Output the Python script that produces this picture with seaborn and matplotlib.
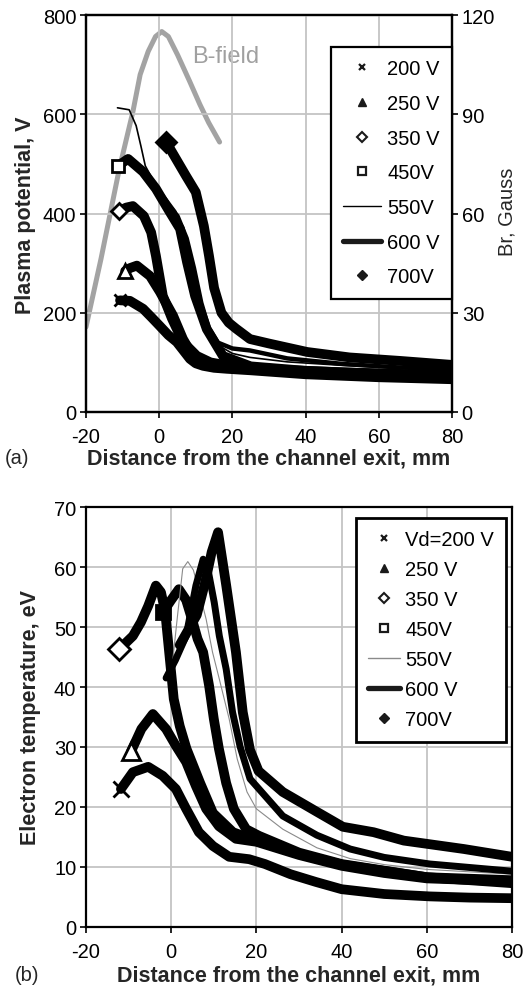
import matplotlib
matplotlib.use("Agg")
import matplotlib.pyplot as plt
from matplotlib.lines import Line2D
import seaborn as sns

# ---------- (a) plasma potential, V vs distance, mm ----------
A200_X = [-10.7, -8, -4.4, -2, 0.2, 2.5, 4.8, 6.5, 8.4, 10, 12, 15, 18.5, 25, 40, 60, 80]
A200_V = [225, 224, 208, 190, 173, 155, 141, 125, 107, 98, 93, 89, 87, 84, 76, 70, 66]
A250_X = [-9.3, -8, -6.1, -2.5, 0.2, 3.8, 6.5, 9.2, 13, 18, 25, 40, 60, 80]
A250_V = [284, 290, 295, 274, 242, 194, 147, 113, 100, 90, 86, 80, 74, 70]
A350_X = [-11, -9, -7.2, -4.2, -2.2, -0.9, 1, 3.5, 6.5, 10.3, 14, 20, 30, 50, 80]
A350_V = [405, 412, 415, 395, 362, 315, 234, 188, 141, 113, 100, 92, 86, 80, 74]
A450_X = [-11.3, -8.5, -4.4, -0.9, 2.4, 5.7, 7.6, 9.8, 13, 17.4, 25, 40, 60, 80]
A450_V = [496, 510, 484, 450, 409, 369, 302, 234, 167, 113, 92, 83, 77, 72]
A550_X = [-11.4, -8.2, -6.3, -5, -3.8, -1, 2, 4.5, 7, 9, 11, 13, 16, 20, 24.8, 35, 50, 65, 80]
A550_V = [613, 609, 577, 536, 496, 458, 430, 405, 360, 305, 235, 175, 135, 118, 110, 101, 94, 88, 84]
A600_X = [-8.5, -4.4, -0.9, 2.4, 5, 7.5, 9.5, 11.5, 13.5, 16, 20, 24.8, 35, 50, 65, 80]
A600_V = [510, 484, 450, 418, 395, 350, 290, 220, 170, 140, 128, 124, 108, 97, 90, 86]
A700_X = [1.9, 4.6, 7.3, 10, 12.2, 13.6, 15, 17, 19, 21, 24.8, 30, 40.4, 52, 65.8, 80]
A700_V = [544, 510, 476, 443, 375, 315, 250, 200, 180, 168, 147, 138, 121, 110, 103, 95]
# B-field, Gauss (right axis)
BF_X = [-20, -15.9, -10.9, -7.2, -5.2, -3, -1, 0.7, 2.5, 5, 8.3, 11.1, 13.5, 16.5]
BF_G = [25.7, 46.3, 73.5, 90.7, 102, 109, 113.5, 115, 113.5, 108, 100, 93, 87.5, 81.6]

# ---------- (b) electron temperature, eV ----------
B200_X = [-11.8, -9, -5.4, -2, 1.1, 3.5, 6.5, 9.8, 13.6, 18.3, 22, 28, 34, 40, 50, 60.7, 70, 80]
B200_T = [23, 25.8, 26.7, 25.2, 23, 19.7, 15.8, 13.5, 11.7, 11.3, 10.5, 8.8, 7.5, 6.3, 5.5, 5.1, 4.9, 4.8]
B250_X = [-9.4, -7, -4.3, -1.2, 1.1, 3.5, 5.8, 8.2, 11.2, 15.2, 20, 30, 40, 50, 60, 80]
B250_T = [29.3, 33, 35.5, 33, 30.2, 27.5, 23.5, 19.7, 16.8, 14.7, 14.2, 12, 10.2, 9, 8.1, 7.6]
B350_X = [-12.2, -9, -7.1, -5.4, -3.6, -2.4, -1.7, -1.2, 0.6, 2, 3.6, 6.8, 9.8, 14.5, 20, 30, 40, 60, 80]
B350_T = [46.3, 48.5, 50.8, 53.5, 56.9, 55.8, 53.5, 51, 38, 33.5, 29.7, 24, 19, 15.8, 14.4, 12.2, 10.4, 8.3, 7.8]
B450_X = [-1.9, 0, 1.8, 3.5, 5, 6.2, 7.5, 8.9, 10, 11.2, 12.9, 14.7, 17.6, 20.6, 30, 40, 60, 80]
B450_T = [52.5, 54.5, 56.3, 54.5, 51, 48, 45.8, 40.2, 34.7, 29.7, 24, 19.7, 16.3, 15.2, 12.4, 10.5, 8.3, 7.3]
B550_X = [0.3, 1.5, 2.7, 3.9, 5.2, 6.6, 8.2, 9.7, 11.3, 13.6, 15.5, 17.8, 20, 26.2, 34.2, 42, 50, 60, 80]
B550_T = [44, 52, 59.7, 60.9, 59.5, 55.8, 51.3, 45.8, 41.3, 34.7, 28, 22.5, 19.7, 16.3, 13.2, 11.4, 10.4, 9.6, 8.8]
B600_X = [-1.2, 1, 3.5, 5.8, 7.5, 8.6, 10.1, 11.3, 12.9, 14.4, 16.2, 18.5, 26.2, 34.2, 42, 50, 60.7, 80]
B600_T = [41.5, 44.5, 48.5, 56.9, 61.3, 59.7, 54.1, 48.5, 43, 35.8, 30, 24.7, 18.5, 15.3, 13, 11.6, 10.5, 9.3]
B700_X = [2, 4, 6, 8, 9.5, 11, 12.9, 15.2, 16.8, 18.5, 20.5, 26.2, 34.2, 40.3, 47.5, 54.6, 68.7, 80]
B700_T = [47, 49.5, 52, 57.5, 62.5, 65.8, 57, 45.8, 35.8, 29.5, 26, 22.5, 19.2, 16.7, 15.8, 14.4, 13, 11.7]

LABELS_A = ["200 V", "250 V", "350 V", "450V", "550V", "600 V", "700V"]
LABELS_B = ["Vd=200 V", "250 V", "350 V", "450V", "550V", "600 V", "700V"]

sns.set_theme(style="white")
plt.rcParams["font.family"] = ["Liberation Sans", "DejaVu Sans"]
plt.rcParams["axes.unicode_minus"] = False
FS = 14.5
GRID = "#c4c4c4"

W, H = 525, 987
fig = plt.figure(figsize=(W / 100, H / 100), dpi=100)


def box(l, r, t, b):
    return [l / W, (H - b) / H, (r - l) / W, (b - t) / H]


def band(ax, x, y, lw, color="black"):
    sns.lineplot(x=x, y=y, ax=ax, sort=False, estimator=None, color=color,
                 lw=lw, legend=False, solid_capstyle="round", solid_joinstyle="round")


def start(ax, x, y, marker, size, face="white", mew=2.0):
    ax.plot([x], [y], marker=marker, ms=size, mfc=face, mec="black", mew=mew,
            ls="none", zorder=6)


def style(ax, ymax, ystep):
    ax.set_xlim(-20, 80)
    ax.set_ylim(0, ymax)
    ax.set_xticks(range(-20, 81, 20))
    ax.set_yticks(range(0, ymax + 1, ystep))
    ax.grid(True, color=GRID, lw=1.3)
    ax.set_axisbelow(True)
    ax.tick_params(direction="out", length=4, width=1.2, labelsize=FS, pad=3,
                   left=True, bottom=True, colors="black")
    ax.tick_params(axis="x", pad=7)
    for s in ax.spines.values():
        s.set_color("black")
        s.set_linewidth(1.6)
    ax.set_xlabel("")
    ax.set_ylabel("")


def legend_handles(thin_color):
    return [
        Line2D([], [], color="k", marker="x", ms=5, mew=1.6, ls="none"),
        Line2D([], [], color="k", marker="^", ms=6, ls="none"),
        Line2D([], [], color="k", marker="D", ms=5, mfc="white", mew=1.5, ls="none"),
        Line2D([], [], color="k", marker="s", ms=5.5, mfc="white", mew=1.6, ls="none"),
        Line2D([], [], color=thin_color, lw=1.0),
        Line2D([], [], color="k", lw=3.8),
        Line2D([], [], color="k", marker="D", ms=5, ls="none"),
    ]


# ---------------- panel (a) ----------------
ax = fig.add_axes(box(86, 452, 16, 413))
style(ax, 800, 200)
ax2 = ax.twinx()
band(ax2, BF_X, BF_G, 3.6, color="#a3a3a3")
ax2.set_ylim(0, 120)
ax2.set_yticks([0, 30, 60, 90, 120])
ax2.tick_params(direction="out", length=4, width=1.2, labelsize=FS, pad=3,
                right=True, colors="black")
ax2.grid(False)
ax2.set_ylabel("")
for s in ax2.spines.values():
    s.set_color("black")
    s.set_linewidth(1.6)
ax2.text(9, 107.7, "B-field", color="#a0a0a0", fontsize=17, va="center", ha="left")

ax.set_zorder(ax2.get_zorder() + 1)
ax.patch.set_visible(False)

band(ax, A200_X, A200_V, 7)
band(ax, A250_X, A250_V, 7)
band(ax, A350_X, A350_V, 7)
band(ax, A450_X, A450_V, 7)
band(ax, A550_X, A550_V, 1.2)
band(ax, A600_X, A600_V, 3.2)
band(ax, A700_X, A700_V, 7)
start(ax, A200_X[0], A200_V[0], "x", 9)
start(ax, A250_X[0], A250_V[0], "^", 10)
start(ax, A350_X[0], A350_V[0], "D", 8)
start(ax, A450_X[0], A450_V[0], "s", 9)
start(ax, A700_X[0], A700_V[0], "D", 10, face="black")

leg = ax.legend(legend_handles("black"), LABELS_A, loc="upper right",
                bbox_to_anchor=(1.0, 0.919), borderaxespad=0, fontsize=FS,
                handlelength=1.9, handletextpad=0.3, labelspacing=0.78,
                borderpad=0.6, frameon=True, fancybox=False, framealpha=1)
leg.get_frame().set_edgecolor("black")
leg.get_frame().set_linewidth(1.6)
for t in leg.get_texts():
    t.set_color("black")

fig.text(26 / W, 1 - 215 / H, "Plasma potential, V", rotation=90, fontsize=15.5,
         fontweight="bold", ha="center", va="center")
fig.text(507 / W, 1 - 212 / H, "Br, Gauss", rotation=90, fontsize=FS,
         ha="center", va="center")
fig.text(269 / W, 1 - 459 / H, "Distance from the channel exit, mm", fontsize=15.5,
         fontweight="bold", ha="center", va="center")
fig.text(5 / W, 1 - 459 / H, "(a)", fontsize=FS, ha="left", va="center")

# ---------------- panel (b) ----------------
bx = fig.add_axes(box(86, 512, 508, 928))
style(bx, 70, 10)
band(bx, B200_X, B200_T, 7)
band(bx, B250_X, B250_T, 7)
band(bx, B350_X, B350_T, 7)
band(bx, B450_X, B450_T, 7)
band(bx, B550_X, B550_T, 0.8, color="#8a8a8a")
band(bx, B600_X, B600_T, 5)
band(bx, B700_X, B700_T, 7)
start(bx, B200_X[0], B200_T[0], "x", 12)
start(bx, B250_X[0], B250_T[0], "^", 13)
start(bx, B350_X[0], B350_T[0], "D", 11)
start(bx, B450_X[0], B450_T[0], "s", 10, face="black")

leg = bx.legend(legend_handles("#8a8a8a"), LABELS_B, loc="upper right",
                bbox_to_anchor=(0.986, 0.974), borderaxespad=0, fontsize=FS,
                handlelength=1.6, handletextpad=0.25, labelspacing=0.55,
                borderpad=0.6, frameon=True, fancybox=False, framealpha=1)
leg.get_frame().set_edgecolor("black")
leg.get_frame().set_linewidth(2.0)
for t in leg.get_texts():
    t.set_color("black")

fig.text(31 / W, 1 - 718 / H, "Electron temperature, eV", rotation=90, fontsize=15.5,
         fontweight="bold", ha="center", va="center")
fig.text(299 / W, 1 - 976 / H, "Distance from the channel exit, mm", fontsize=15.5,
         fontweight="bold", ha="center", va="center")
fig.text(15 / W, 1 - 976 / H, "(b)", fontsize=FS, ha="left", va="center")

fig.savefig("out.png", dpi=100)
